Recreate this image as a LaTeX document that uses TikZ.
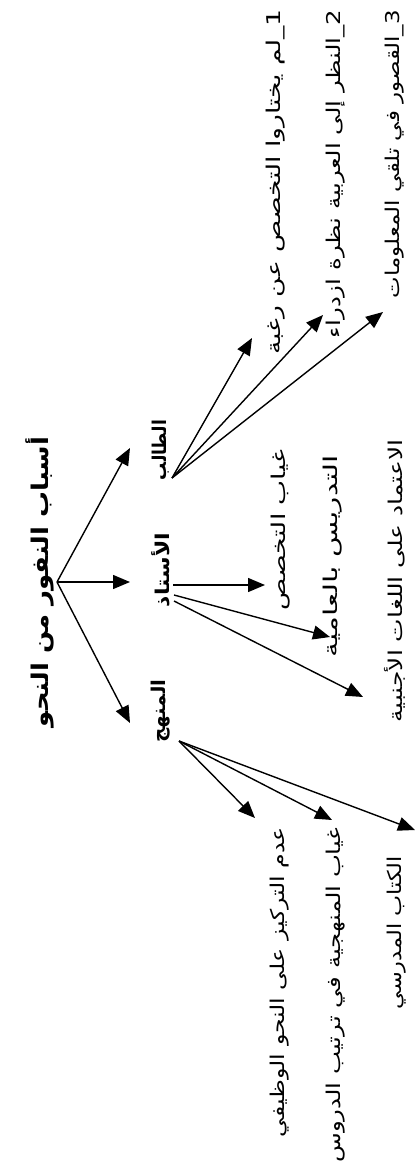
\documentclass[tikz,border=0pt]{standalone}
\usepackage{fontspec}
\usepackage{graphicx}
\usetikzlibrary{arrows.meta}
\TeXXeTstate=1
\newfontfamily\arabicfont[Script=Arabic]{DejaVu Sans}
\newcommand\arfit[2]{\resizebox{#1pt}{\height}{#2}}
\begin{document}
\begin{tikzpicture}[x=1pt,y=-1pt,
  ttl/.style={rotate=90, inner sep=0pt, font=\arabicfont\bfseries\fontsize{23}{27}\selectfont},
  lvtwo/.style={rotate=90, inner sep=0pt, font=\arabicfont\bfseries\fontsize{19}{22}\selectfont},
  item/.style={rotate=90, inner sep=0pt, font=\arabicfont\fontsize{19}{22}\selectfont},
  arr/.style={-{Triangle[length=17pt,width=14pt]}, line width=1.4pt}]
\useasboundingbox (0,0) rectangle (415,1169);
% title and level two
\node[ttl] (title) at (40,582) {\arfit{290}{\beginR أسباب النفور من النحو\endR}};
\node[lvtwo] (talib) at (161,450) {\arfit{60}{\beginR الطالب\endR}};
\node[lvtwo] (ustadh) at (161,570) {\arfit{74}{\beginR الأستاذ\endR}};
\node[lvtwo] (manhaj) at (161,711) {\arfit{63}{\beginR المنهج\endR}};
% student items
\node[item] (s1) at (276,182) {\arfit{345}{\beginR 1\_لم يختاروا التخصص عن رغبة\endR}};
\node[item] (s2) at (336,174) {\arfit{328}{\beginR 2\_النظر إلى العربية نظرة ازدراء\endR}};
\node[item] (s3) at (395,154) {\arfit{288}{\beginR 3\_القصور في تلقي المعلومات\endR}};
% teacher items
\node[item] (t1) at (281,530) {\arfit{160}{\beginR غياب التخصص\endR}};
\node[item] (t2) at (333,556) {\arfit{202}{\beginR التدريس بالعامية\endR}};
\node[item] (t3) at (395,581) {\arfit{283}{\beginR الاعتماد على اللغات الأجنبية\endR}};
% method items
\node[item] (m1) at (280,982) {\arfit{310}{\beginR عدم التركيز على النحو الوظيفي\endR}};
\node[item] (m2) at (336,995) {\arfit{335}{\beginR غياب المنهجية في ترتيب الدروس\endR}};
\node[item] (m3) at (397,933) {\arfit{153}{\beginR الكتاب المدرسي\endR}};
% connector points
\coordinate (o) at (57,582);
\coordinate (talibTip) at (130,448);
\coordinate (ustadhTip) at (130,582);
\coordinate (manhajTip) at (130,723);
\coordinate (so) at (172,478);
\coordinate (s1tip) at (252,338);
\coordinate (s2tip) at (323,315);
\coordinate (s3tip) at (383,312);
\coordinate (to1) at (173,585);
\coordinate (to2) at (174,595);
\coordinate (to3) at (174,601);
\coordinate (t1tip) at (265,585);
\coordinate (t2tip) at (330,637);
\coordinate (t3tip) at (363,697);
\coordinate (mo) at (179,741);
\coordinate (m1tip) at (255,818);
\coordinate (m2tip) at (332,820);
\coordinate (m3tip) at (415,830);
% arrows
\draw[arr] (o) -- (talibTip);
\draw[arr] (o) -- (ustadhTip);
\draw[arr] (o) -- (manhajTip);
\draw[arr] (so) -- (s1tip);
\draw[arr] (so) -- (s2tip);
\draw[arr] (so) -- (s3tip);
\draw[arr] (to1) -- (t1tip);
\draw[arr] (to2) -- (t2tip);
\draw[arr] (to3) -- (t3tip);
\draw[arr] (mo) -- (m1tip);
\draw[arr] (mo) -- (m2tip);
\draw[arr] (mo) -- (m3tip);
\end{tikzpicture}
\end{document}
